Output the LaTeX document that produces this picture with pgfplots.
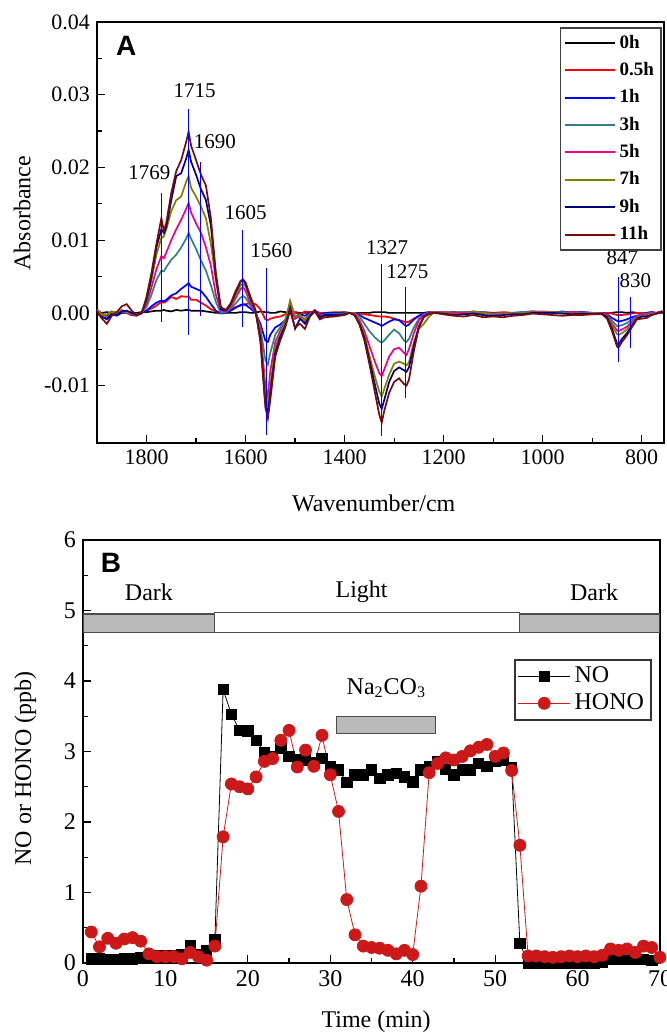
\documentclass[border=0pt]{standalone}
\usepackage{fontspec}
\setmainfont{Liberation Serif}
\newfontfamily\panelfont{Liberation Sans}
\usepackage{pgfplots}
\usepackage{pgfplotstable}
\pgfplotsset{compat=1.18}

\definecolor{c3h}{RGB}{51,128,128}
\definecolor{c7h}{RGB}{128,128,0}
\definecolor{c9h}{RGB}{0,0,128}
\definecolor{c11h}{RGB}{120,10,10}
\definecolor{hono}{RGB}{204,24,24}
\definecolor{barfill}{RGB}{185,185,185}

% absorbance in units of 1e-3
\pgfplotstableread{
wn   a0   a05  a1   a3   a5    a7    a9    a11
1900 0.2  0.3  0.3  0.3  0.5   0.4   0.0   0.2
1890 0.0  -0.2 -0.5 -0.3 -0.2  -0.3  -0.6  -0.8
1880 0.1  -0.3 -0.9 -0.5 -0.3  -0.2  -0.8  -1.5
1870 0.0  0.0  -0.2 0.0  0.2   0.2   -0.2  -0.4
1860 0.1  -0.2 -0.4 -0.2 -0.1  -0.1  -0.3  0.1
1850 0.0  0.1  0.0  0.2  0.4   0.3   0.2   0.9
1840 0.1  0.0  0.0  0.0  0.0   0.1   0.3   1.2
1830 0.0  -0.3 -0.3 -0.2 -0.2  -0.1  0.0   0.3
1820 0.0  -0.3 -0.4 -0.3 -0.3  -0.3  -0.3  -0.3
1810 0.1  0.0  0.0  0.0  0.0   0.0   0.0   -0.1
1800 0.1  0.3  0.3  0.8  1.2   1.5   1.8   2.2
1790 0.2  0.6  0.9  2.5  3.5   4.5   5.0   5.5
1780 0.3  1.0  1.4  4.5  6.0   8.0   9.0   9.5
1770 0.3  1.5  1.7  5.8  7.8   10.3  11.5  13.0
1765 0.4  1.4  1.6  5.7  7.5   10.5  11.0  11.3
1760 0.3  1.6  1.8  6.3  8.3   11.5  11.8  12.4
1750 0.2  2.2  2.4  7.3  10.0  14.0  15.5  16.5
1740 0.4  1.9  2.7  8.0  11.5  15.5  18.8  19.5
1730 0.3  2.3  3.3  9.0  12.8  16.0  19.2  21.0
1720 0.4  2.2  3.8  10.2 14.3  18.0  21.2  23.5
1715 0.4  2.3  4.1  11.0 15.1  18.8  22.4  24.9
1710 0.3  1.8  3.6  10.2 13.8  17.2  20.8  23.0
1700 0.3  1.8  3.3  8.8  12.3  16.0  19.0  21.0
1690 0.3  1.4  3.0  7.2  11.0  14.6  17.0  19.0
1680 0.2  1.0  2.2  5.8  9.0   13.0  15.5  17.5
1670 0.1  0.5  1.2  3.8  6.5   9.5   12.0  13.0
1660 0.0  0.2  0.3  1.5  2.5   4.5   5.0   5.5
1650 0.0  0.0  -0.1 0.0  0.3   0.6   0.5   0.8
1640 0.0  0.2  0.0  0.1  0.2   0.3   0.3   0.4
1630 0.0  0.5  0.3  0.6  0.8   1.0   1.2   1.3
1620 0.0  0.8  0.7  1.3  2.0   2.3   2.8   3.0
1610 0.1  1.0  1.1  2.1  3.3   3.8   4.3   4.4
1605 0.1  1.1  1.2  2.3  3.5   4.0   4.5   4.6
1600 0.1  1.2  1.1  2.1  3.0   3.6   4.0   4.2
1590 0.0  1.3  0.6  1.0  1.3   1.7   2.0   2.2
1580 0.0  1.2  0.0  0.1  0.2   0.3   0.3   0.4
1570 0.2  0.5  -1.5 -2.0 -2.5  -3.0  -3.5  -4.0
1560 0.1  -0.9 -3.8 -6.5 -10.0 -11.5 -12.5 -13.0
1555 0.1  -1.0 -4.0 -7.1 -11.5 -12.8 -14.0 -14.5
1550 0.0  -0.8 -3.0 -5.5 -8.0  -10.0 -11.0 -12.0
1540 0.0  -0.6 -2.0 -3.0 -4.0  -4.8  -5.5  -6.0
1530 0.2  -0.5 -1.6 -2.0 -2.5  -3.0  -3.3  -3.8
1520 0.1  -0.2 -1.0 -1.0 -1.2  -1.2  -1.8  -2.0
1510 0.0  0.2  0.3  1.0  0.8   1.7   0.6   0.3
1500 0.1  0.0  -0.5 -0.8 -0.8  -0.5  -2.2  -2.0
1490 0.0  -0.2 -0.2 -0.5 -0.3  -0.3  -0.8  -1.5
1480 0.0  0.2  -0.4 -0.8 -1.2  -1.0  -1.5  -2.2
1470 0.0  0.1  0.0  -0.2 -0.2  -0.2  -0.4  -0.5
1460 0.2  0.1  0.3  0.3  0.4   0.2   0.3   0.2
1450 0.0  0.0  -0.3 -0.4 -0.4  -0.6  -0.6  -0.9
1440 0.0  0.0  0.0  -0.2 -0.3  -0.4  -0.3  -0.6
1420 0.0  0.1  0.0  -0.2 -0.3  -0.2  -0.3  -0.5
1400 0.1  0.0  0.0  -0.1 -0.2  -0.1  -0.2  -0.3
1390 0.0  0.0  0.0  0.0  0.0   0.0   0.0   0.0
1380 0.0  0.0  0.0  0.0  -0.1  -0.2  -0.3  -0.3
1370 0.0  -0.1 -0.3 -0.5 -1.0  -1.3  -1.5  -1.6
1360 0.0  -0.2 -0.7 -1.5 -2.5  -3.0  -3.4  -3.8
1350 0.0  -0.3 -1.0 -2.5 -4.5  -5.8  -6.5  -7.0
1340 0.1  -0.4 -1.3 -3.3 -6.5  -8.5  -9.5  -10.5
1330 0.1  -0.5 -1.6 -3.9 -8.3  -10.8 -12.5 -14.0
1325 0.1  -0.5 -1.8 -4.1 -8.7  -11.5 -13.2 -15.1
1320 0.1  -0.5 -1.6 -3.8 -7.8  -10.5 -12.0 -13.5
1310 0.0  -0.6 -1.2 -3.0 -6.0  -8.5  -9.5  -11.0
1300 0.0  -0.8 -0.9 -2.3 -5.0  -7.0  -8.0  -9.5
1290 0.0  -1.0 -1.0 -2.8 -4.8  -6.7  -7.5  -9.0
1280 0.0  -1.2 -1.6 -3.8 -5.5  -7.0  -7.9  -9.8
1275 0.0  -1.3 -1.8 -4.0 -5.8  -7.2  -8.1  -10.0
1270 0.0  -1.2 -1.6 -3.6 -5.0  -6.8  -7.5  -9.2
1260 0.0  -0.8 -0.9 -2.0 -2.8  -4.0  -4.5  -5.2
1250 0.0  -0.4 -0.4 -0.8 -1.0  -2.2  -1.8  -2.0
1240 0.0  -0.2 -0.1 -0.2 -0.3  -1.5  -0.5  -0.6
1230 0.1  0.0  0.0  0.0  0.0   -0.6  -0.1  -0.2
1220 0.0  0.1  0.1  0.1  0.1   0.1   0.0   0.0
1200 0.0  0.0  0.0  0.1  0.1   0.0   -0.1  -0.2
1180 0.1  0.0  -0.1 0.0  0.0   -0.2  -0.3  -0.4
1160 0.0  0.1  0.0  0.1  0.0   -0.2  -0.2  -0.5
1140 0.1  0.0  0.0  0.1  0.2   0.2   -0.1  -0.3
1120 0.0  0.0  0.1  0.0  0.0   0.0   -0.3  -0.6
1100 0.0  0.0  0.0  -0.1 -0.1  -0.2  -0.4  -0.5
1080 0.0  0.1  0.0  0.0  0.0   -0.1  -0.3  -0.6
1060 0.0  0.0  0.0  0.0  -0.1  -0.1  -0.2  -0.4
1040 0.0  0.0  0.1  0.1  0.0   0.0   -0.2  -0.3
1020 0.0  0.1  0.2  0.2  0.1   0.1   0.0   -0.1
1000 0.0  0.1  0.1  0.1  0.2   0.1   0.0   -0.2
980  0.0  0.1  0.0  0.0  0.1   0.1   0.0   -0.3
960  0.0  0.0  0.2  0.1  0.0   0.0   -0.1  -0.4
940  0.1  0.0  0.0  0.0  0.1   -0.1  -0.2  -0.3
920  0.0  0.1  0.1  0.0  0.0   0.0   -0.1  -0.3
900  0.0  0.0  0.0  0.0  -0.1  -0.1  -0.2  -0.2
880  0.0  0.0  0.0  0.0  0.0   -0.1  -0.1  -0.2
870  0.0  0.0  -0.2 -0.3 -0.4  -0.5  -0.6  -0.8
860  0.0  -0.1 -0.7 -1.1 -1.5  -1.8  -2.2  -2.5
850  0.1  -0.3 -1.1 -1.8 -2.4  -2.9  -4.2  -4.6
847  0.1  -0.3 -1.2 -1.8 -2.5  -3.0  -4.4  -4.8
840  0.1  -0.3 -1.1 -1.7 -2.3  -2.8  -3.6  -4.0
830  0.0  -0.2 -0.9 -1.4 -1.9  -2.3  -2.8  -3.1
820  0.1  -0.1 -0.6 -0.9 -1.2  -1.5  -1.8  -2.0
810  0.0  0.0  -0.4 -0.5 -0.6  -0.7  -0.8  -0.9
800  0.0  0.0  -0.2 -0.2 -0.3  -0.4  -0.5  -0.8
790  0.0  0.0  0.0  -0.1 -0.2  -0.4  -0.5  -0.7
780  0.0  0.1  0.1  0.0  -0.1  -0.2  -0.3  -0.3
770  0.0  0.0  0.0  0.0  0.0   -0.1  -0.1  -0.1
760  0.0  0.1  0.1  0.1  0.2   0.1   0.1   0.2
750  0.0  0.1  0.1  0.2  0.2   0.2   0.1   0.2
}\spectra

\pgfplotstableread{
t  no
1  0.06
2  0.06
3  0.05
4  0.05
5  0.06
6  0.06
7  0.07
8  0.09
9  0.10
10 0.10
11 0.11
12 0.12
13 0.25
14 0.12
15 0.17
16 0.33
17 3.88
18 3.53
19 3.30
20 3.29
21 3.16
22 2.98
23 2.93
24 3.04
25 2.93
26 2.88
27 2.88
28 2.84
29 2.90
30 2.78
31 2.74
32 2.56
33 2.67
34 2.67
35 2.74
36 2.62
37 2.67
38 2.69
39 2.64
40 2.57
41 2.74
42 2.78
43 2.86
44 2.75
45 2.67
46 2.74
47 2.74
48 2.83
49 2.79
50 2.86
51 2.88
52 2.77
53 0.28
54 0.00
55 0.00
56 0.00
57 0.00
58 0.00
59 0.00
60 0.00
61 0.00
62 0.00
63 0.01
64 0.06
65 0.06
66 0.06
67 0.05
68 0.05
69 0.04
}\notab

\pgfplotstableread{
t  hono
1  0.44
2  0.23
3  0.35
4  0.28
5  0.34
6  0.36
7  0.31
8  0.13
9  0.09
10 0.09
11 0.09
12 0.06
13 0.15
14 0.09
15 0.04
16 0.24
17 1.79
18 2.54
19 2.50
20 2.47
21 2.64
22 2.86
23 2.90
24 3.16
25 3.30
26 2.78
27 3.02
28 2.79
29 3.23
30 2.67
31 2.15
32 0.90
33 0.40
34 0.24
35 0.22
36 0.21
37 0.18
38 0.13
39 0.18
40 0.12
41 1.09
42 2.70
43 2.83
44 2.91
45 2.88
46 2.93
47 3.01
48 3.06
49 3.10
50 2.93
51 2.98
52 2.73
53 1.67
54 0.10
55 0.10
56 0.09
57 0.08
58 0.09
59 0.10
60 0.09
61 0.10
62 0.09
63 0.11
64 0.20
65 0.18
66 0.20
67 0.15
68 0.24
69 0.22
70 0.08
}\honotab

\pgfplotsset{
  panel/.style={
    scale only axis,
    anchor=south west,
    tick align=inside,
    xtick pos=left,
    ytick pos=left,
    major tick length=4pt,
    minor tick length=2.5pt,
    axis line style={line width=0.8pt},
    every tick/.style={black, line width=0.6pt},
    /pgf/number format/assume math mode=true,
    /pgf/number format/1000 sep={},
    label style={font=\fontsize{12}{12}\selectfont},
  },
}

\begin{document}
\begin{tikzpicture}
\path[use as bounding box] (0,0) rectangle (333.5pt,-517pt);

% ---- panel A ----
\begin{axis}[panel,
  at={(48.5pt,-221.5pt)},
  width=283.5pt, height=210.5pt,
  x dir=reverse,
  xmin=755, xmax=1900,
  ymin=-17.9, ymax=40,
  xtick={800,1000,...,1800},
  minor x tick num=1,
  ytick={-10,0,10,20,30,40},
  yticklabels={\textrm{-0.01},\textrm{0.00},\textrm{0.01},\textrm{0.02},\textrm{0.03},\textrm{0.04}},
  minor y tick num=1,
  ticklabel style={font=\fontsize{11}{11}\selectfont},
  xlabel={Wavenumber/cm},
  ylabel={Absorbance},
  xlabel style={at={(axis description cs:0.488,-0.1425)}, anchor=center},
  ylabel style={at={(axis description cs:-0.132,0.546)}, anchor=center},
  legend cell align=left,
  legend style={at={(axis description cs:0.996,0.988)}, anchor=north east,
    font=\bfseries\fontsize{9.5}{9.5}\selectfont, draw=black!75, line width=0.8pt,
    row sep=1.6pt, inner sep=1.5pt},
  legend image code/.code={\draw[#1, line width=1pt] (0pt,0pt) -- (25pt,0pt);},
  every axis plot/.append style={line width=0.85pt},
]
\addplot[black]  table[x=wn, y=a0]  {\spectra};
\addplot[red]    table[x=wn, y=a05] {\spectra};
\addplot[blue]   table[x=wn, y=a1]  {\spectra};
\addplot[c3h]    table[x=wn, y=a3]  {\spectra};
\addplot[magenta] table[x=wn, y=a5] {\spectra};
\addplot[c7h]    table[x=wn, y=a7]  {\spectra};
\addplot[c9h]    table[x=wn, y=a9]  {\spectra};
\addplot[c11h]   table[x=wn, y=a11] {\spectra};
\legend{0h,0.5h,1h,3h,5h,7h,9h,11h}

% peak markers
\addplot[blue, line width=0.5pt, forget plot] coordinates {(1769,-1.3) (1769,16.5)};
\addplot[blue, line width=0.5pt, forget plot] coordinates {(1715,-3.0) (1715,28.1)};
\addplot[blue, line width=0.5pt, forget plot] coordinates {(1690,-0.5) (1690,20.8)};
\addplot[blue, line width=0.5pt, forget plot] coordinates {(1607,-2.0) (1607,11.4)};
\addplot[blue, line width=0.5pt, forget plot] coordinates {(1557,-16.8) (1557,6.2)};
\addplot[blue, line width=0.5pt, forget plot] coordinates {(1325,-17.0) (1325,6.7)};
\addplot[blue, line width=0.5pt, forget plot] coordinates {(1278,-11.7) (1278,3.6)};
\addplot[blue, line width=0.5pt, forget plot] coordinates {(846,-6.8) (846,4.9)};
\addplot[blue, line width=0.5pt, forget plot] coordinates {(822,-4.8) (822,2.2)};

\begin{scope}[every node/.style={font=\fontsize{10.5}{10.5}\selectfont, inner sep=0pt}]
\node at (axis cs:1794,19.3) {1769};
\node at (axis cs:1703,30.6) {1715};
\node at (axis cs:1662,23.5) {1690};
\node at (axis cs:1600,13.8) {1605};
\node at (axis cs:1548,8.6) {1560};
\node at (axis cs:1314,8.9) {1327};
\node at (axis cs:1273,5.7) {1275};
\node at (axis cs:839,7.6) {847};
\node at (axis cs:813,4.4) {830};
\end{scope}
\node[font=\panelfont\bfseries\fontsize{14}{14}\selectfont] at (axis cs:1841,36.7) {A};
\end{axis}

% ---- panel B ----
\begin{axis}[panel,
  at={(41.5pt,-481.5pt)},
  width=288.5pt, height=211.5pt,
  xmin=0, xmax=70,
  ymin=0, ymax=6,
  xtick={0,10,...,70},
  minor x tick num=1,
  ytick={0,1,...,6},
  minor y tick num=1,
  ticklabel style={font=\fontsize{12}{12}\selectfont},
  xlabel={Time (min)},
  ylabel={NO or HONO (ppb)},
  xlabel style={at={(axis description cs:0.508,-0.1395)}, anchor=center},
  ylabel style={at={(axis description cs:-0.1,0.46)}, anchor=center},
  legend cell align=left,
  legend style={at={(axis cs:69,4.31)}, anchor=north east,
    font=\fontsize{12}{12}\selectfont, draw=black!80, line width=0.8pt,
    row sep=0pt, inner sep=1.5pt},
  legend image code/.code={\draw[#1, mark repeat=2, mark phase=2]
    plot coordinates {(0pt,0pt) (13pt,0pt) (26pt,0pt)};},
]
\draw[black!70, fill=barfill, line width=0.6pt] (axis cs:0,4.69) rectangle (axis cs:16,4.95);
\draw[black!70, fill=white, line width=0.6pt] (axis cs:16,4.69) rectangle (axis cs:53,4.97);
\draw[black!70, fill=barfill, line width=0.6pt] (axis cs:53,4.69) rectangle (axis cs:70,4.95);
\draw[black!70, fill=barfill, line width=0.6pt] (axis cs:30.8,3.26) rectangle (axis cs:42.8,3.50);

\addplot[black, line width=0.4pt, mark=square*, mark size=2.6pt,
  mark options={solid, fill=black}] table[x=t, y=no] {\notab};
\addplot[hono, line width=0.4pt, mark=*, mark size=3pt,
  mark options={solid, fill=hono, draw=hono}] table[x=t, y=hono] {\honotab};
\legend{NO,HONO}

\begin{scope}[every node/.style={font=\fontsize{12}{12}\selectfont}]
\node at (axis cs:8,5.26) {Dark};
\node at (axis cs:33.8,5.26) {Light};
\node at (axis cs:62,5.26) {Dark};
\node at (axis cs:36.8,3.9) {Na\textsubscript{2}CO\textsubscript{3}};
\end{scope}
\node[font=\panelfont\bfseries\fontsize{14}{14}\selectfont] at (axis cs:3.4,5.67) {B};
\end{axis}
\end{tikzpicture}
\end{document}
